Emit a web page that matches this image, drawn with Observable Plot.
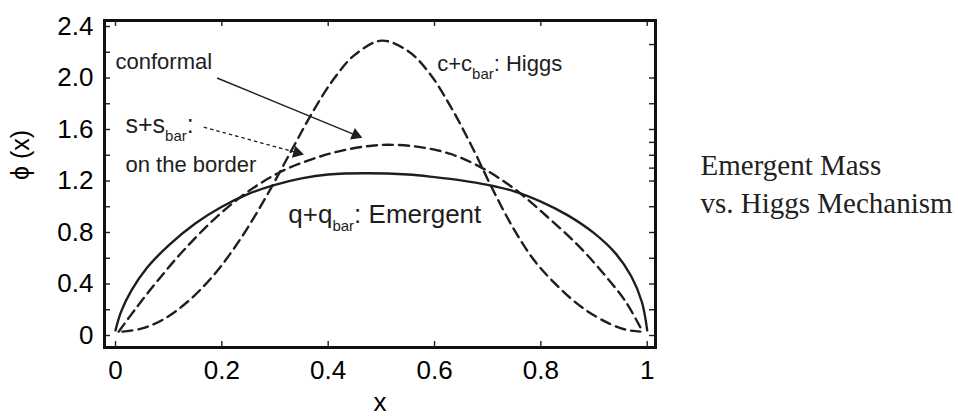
<!DOCTYPE html>
<html><head><meta charset="utf-8">
<script src="https://cdn.jsdelivr.net/npm/d3@7"></script>
<script src="https://cdn.jsdelivr.net/npm/@observablehq/plot@0.6"></script>
<style>body{margin:0;background:#fff;} svg{display:block}</style>
</head><body><div id="chart"></div>
<script>
// q+q_bar : Emergent (solid)
const emergentX = [0.0, 0.01, 0.03, 0.06, 0.1, 0.15, 0.2, 0.25, 0.3, 0.35, 0.4, 0.47, 0.55, 0.6, 0.65, 0.7, 0.75, 0.8, 0.85, 0.9, 0.94, 0.97, 0.99, 1.0];
const emergentY = [0.04, 0.18, 0.35, 0.53, 0.70, 0.87, 1.0, 1.10, 1.17, 1.22, 1.25, 1.26, 1.25, 1.23, 1.205, 1.17, 1.12, 1.04, 0.935, 0.795, 0.64, 0.46, 0.26, 0.04];
// s+s_bar : on the border (dashed)
const borderX = [0.006, 0.04, 0.08, 0.13, 0.19, 0.25, 0.31, 0.37, 0.43, 0.5, 0.57, 0.63, 0.69, 0.75, 0.81, 0.87, 0.92, 0.96, 0.99];
const borderY = [0.03, 0.22, 0.43, 0.67, 0.92, 1.12, 1.27, 1.37, 1.44, 1.48, 1.465, 1.41, 1.30, 1.14, 0.93, 0.70, 0.47, 0.26, 0.04];
// c+c_bar : Higgs (dashed)
const higgsX = [0.013, 0.05, 0.09, 0.135, 0.185, 0.235, 0.285, 0.33, 0.37, 0.41, 0.45, 0.5, 0.55, 0.59, 0.63, 0.67, 0.71, 0.75, 0.79, 0.835, 0.88, 0.93, 0.96, 0.987];
const higgsY = [0.03, 0.055, 0.125, 0.26, 0.47, 0.75, 1.09, 1.43, 1.73, 1.99, 2.18, 2.29, 2.21, 2.04, 1.78, 1.47, 1.13, 0.82, 0.57, 0.37, 0.21, 0.09, 0.045, 0.03];

// tick values / labels
const xTickValues = [0, 0.2, 0.4, 0.6, 0.8, 1];
const xTickLabels = ["0", "0.2", "0.4", "0.6", "0.8", "1"];
const yTickValues = [0, 0.4, 0.8, 1.2, 1.6, 2.0, 2.4];
const yTickLabels = ["0", "0.4", "0.8", "1.2", "1.6", "2.0", "2.4"];
const yMinorTicks = [0, 0.2, 0.4, 0.6, 0.8, 1.0, 1.2, 1.4, 1.6, 1.8, 2.0, 2.2, 2.4];
const yRightTicks = [0, 0.2, 0.4, 0.6, 0.8, 1.0, 1.2, 1.3, 1.4, 1.5, 1.6, 1.8, 2.0, 2.26];

// annotations
const conformalLabel = {text: "conformal", x: 0.0, y: 2.071};
const higgsLabel = {text: "c+c_bar: Higgs", x: 0.605, y: 2.058};
const borderLabel1 = {text: "s+s_bar:", x: 0.0188, y: 1.569};
const borderLabel2 = {text: "on the border", x: 0.0188, y: 1.268};
const emergentLabel = {text: "q+q_bar: Emergent", x: 0.325, y: 0.87};
const conformalArrow = {x1: 0.191, y1: 2.0, x2: 0.4518, y2: 1.5565};
const borderArrow = {x1: 0.166, y1: 1.618, x2: 0.3414, y2: 1.42};
const xAxisLabel = "x";
const yAxisLabel = "\u03d5 (x)";
const sideTitle = ["Emergent Mass", "vs. Higgs Mechanism"];

const toRows = (xs, ys) => xs.map((x, i) => ({x, y: ys[i]}));
const emergent = toRows(emergentX, emergentY);
const border = toRows(borderX, borderY);
const higgs = toRows(higgsX, higgsY);

const ink = "#1e1e1e";
const sans = "Liberation Sans, Arial, sans-serif";
const serif = "Liberation Serif, Times New Roman, serif";
const frameW = 958 - 104 - 303, frameH = 417 - 20 - 70;

const lbl = (d, size) => Plot.text([d], {x: "x", y: "y", text: "text", textAnchor: "start", lineAnchor: "bottom", fontSize: size, fill: ink});

const chart = Plot.plot({
  width: 958, height: 417,
  marginLeft: 104, marginRight: 303, marginTop: 20, marginBottom: 70,
  x: {domain: [-0.0207, 1.0156]},
  y: {domain: [-0.0932, 2.4466]},
  style: {fontFamily: sans, color: ink, background: "#fff"},
  marks: [
    Plot.line(emergent, {x: "x", y: "y", curve: "catmull-rom", stroke: ink, strokeWidth: 2.4}),
    Plot.line(border, {x: "x", y: "y", curve: "catmull-rom", stroke: ink, strokeWidth: 2.4, strokeDasharray: "10,6"}),
    Plot.line(higgs, {x: "x", y: "y", curve: "catmull-rom", stroke: ink, strokeWidth: 2.4, strokeDasharray: "10,6"}),
    Plot.link([conformalArrow], {x1: "x1", y1: "y1", x2: "x2", y2: "y2", stroke: ink, strokeWidth: 1.4}),
    Plot.link([borderArrow], {x1: "x1", y1: "y1", x2: "x2", y2: "y2", stroke: ink, strokeWidth: 1.3, strokeDasharray: "3.5,3"}),
    Plot.dot([conformalArrow], {x: "x2", y: "y2", symbol: "triangle", r: 4.6, fill: ink, stroke: "none", rotate: 112.4}),
    Plot.dot([borderArrow], {x: "x2", y: "y2", symbol: "triangle", r: 4.6, fill: ink, stroke: "none", rotate: 105.3}),
    lbl(conformalLabel, 22),
    lbl(higgsLabel, 22),
    lbl(borderLabel1, 25),
    lbl(borderLabel2, 22),
    lbl(emergentLabel, 26),
    // inward ticks
    Plot.tickY(yMinorTicks, {y: d => d, insetRight: frameW - 6, stroke: ink, strokeWidth: 1.4}),
    Plot.tickY(yRightTicks, {y: d => d, insetLeft: frameW - 6, stroke: ink, strokeWidth: 1.4}),
    Plot.tickX(xTickValues, {x: d => d, insetBottom: frameH - 6, stroke: ink, strokeWidth: 1.4}),
    Plot.tickX(xTickValues, {x: d => d, insetTop: frameH - 6, stroke: ink, strokeWidth: 1.4}),
    Plot.axisX(xTickValues, {anchor: "bottom", tickSize: 0, tickPadding: 13, fontSize: 26, label: null,
      tickFormat: d => xTickLabels[xTickValues.indexOf(d)], fill: "#000"}),
    Plot.axisY(yTickValues, {anchor: "left", tickSize: 0, tickPadding: 11, fontSize: 26, label: null,
      tickFormat: d => yTickLabels[yTickValues.indexOf(d)], fill: "#000"}),
    Plot.text([xAxisLabel], {frameAnchor: "bottom", dy: 63, lineAnchor: "bottom", fontSize: 26, fill: "#000"}),
    Plot.text([yAxisLabel], {frameAnchor: "left", dx: -84, dy: -4, rotate: -90, fontSize: 25, fill: "#000"}),
    Plot.text([sideTitle[0]], {frameAnchor: "top-right", dx: 45, dy: 154, textAnchor: "start", lineAnchor: "bottom",
      fontFamily: serif, fontSize: 29, fill: "#222"}),
    Plot.text([sideTitle[1]], {frameAnchor: "top-right", dx: 45, dy: 192, textAnchor: "start", lineAnchor: "bottom",
      fontFamily: serif, fontSize: 29, fill: "#222"}),
    Plot.frame({stroke: "#111", strokeWidth: 3})
  ]
});

// subscripts "bar"
chart.querySelectorAll("text").forEach(t => {
  const m = /^(.*)_bar(.*)$/.exec(t.textContent);
  if (!m) return;
  const ns = "http://www.w3.org/2000/svg";
  while (t.firstChild) t.removeChild(t.firstChild);
  const a = document.createElementNS(ns, "tspan"); a.textContent = m[1];
  const b = document.createElementNS(ns, "tspan"); b.textContent = "bar";
  b.setAttribute("font-size", "15"); b.setAttribute("dy", "8");
  const c = document.createElementNS(ns, "tspan"); c.textContent = m[2];
  c.setAttribute("dy", "-8");
  t.append(a, b, c);
});

document.getElementById("chart").appendChild(chart);
</script>
</body></html>
